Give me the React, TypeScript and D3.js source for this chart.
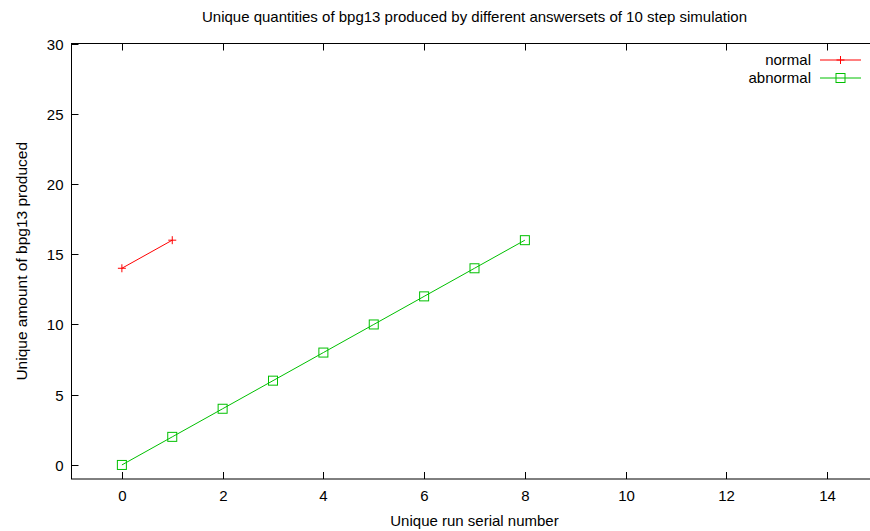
import React, { useEffect, useRef } from 'react';
import * as d3 from 'd3';

const normalX = [0, 1];
const normalY = [14, 16];
const abnormalX = [0, 1, 2, 3, 4, 5, 6, 7, 8];
const abnormalY = [0, 2, 4, 6, 8, 10, 12, 14, 16];
const xTicks = [0, 2, 4, 6, 8, 10, 12, 14];
const yTicks = [0, 5, 10, 15, 20, 25, 30];
const seriesNames = ['normal', 'abnormal'];

const W = 870;
const H = 531;

const App = () => {
  const svgRef = useRef<SVGSVGElement>(null);

  useEffect(() => {
    const svg = d3.select(svgRef.current);
    svg.selectAll('*').remove();

    const left = 71.5, right = 877.5, top = 43.5, bottom = 479;
    const font = 'Liberation Sans, Arial, sans-serif';
    const fs = 15;

    const x = d3.scaleLinear().domain([-1, 15]).range([left, right]);
    const y = d3.scaleLinear().domain([-1, 30]).range([bottom, top]);

    svg.append('rect').attr('width', W).attr('height', H).attr('fill', '#fff');

    // frame
    svg.append('rect')
      .attr('x', left).attr('y', top)
      .attr('width', right - left).attr('height', bottom - top)
      .attr('fill', 'none').attr('stroke', '#000').attr('stroke-width', 1);

    const tickLen = 7;
    const g = svg.append('g');
    xTicks.forEach(t => {
      const px = Math.round(x(t)) + 0.5;
      g.append('line').attr('x1', px).attr('x2', px).attr('y1', bottom).attr('y2', bottom - tickLen).attr('stroke', '#000');
      g.append('line').attr('x1', px).attr('x2', px).attr('y1', top).attr('y2', top + tickLen).attr('stroke', '#000');
      g.append('text').attr('x', px).attr('y', bottom + 22)
        .attr('text-anchor', 'middle').attr('font-family', font).attr('font-size', fs)
        .attr('fill', '#000').text(t);
    });
    yTicks.forEach(t => {
      const py = Math.round(y(t)) + 0.5;
      g.append('line').attr('x1', left).attr('x2', left + tickLen).attr('y1', py).attr('y2', py).attr('stroke', '#000');
      g.append('text').attr('x', left - 8).attr('y', py + 5)
        .attr('text-anchor', 'end').attr('font-family', font).attr('font-size', fs)
        .attr('fill', '#000').text(t);
    });

    // titles
    const cx = (left + right) / 2;
    svg.append('text').attr('x', cx).attr('y', 22).attr('text-anchor', 'middle')
      .attr('font-family', font).attr('font-size', 15).attr('fill', '#000')
      .text('Unique quantities of bpg13 produced by different answersets of 10 step simulation');
    svg.append('text').attr('x', cx).attr('y', 526).attr('text-anchor', 'middle')
      .attr('font-family', font).attr('font-size', 15).attr('fill', '#000')
      .text('Unique run serial number');
    svg.append('text')
      .attr('transform', `translate(27, ${(top + bottom) / 2}) rotate(-90)`)
      .attr('text-anchor', 'middle')
      .attr('font-family', font).attr('font-size', 15.5).attr('fill', '#000')
      .text('Unique amount of bpg13 produced');

    const line = d3.line<[number, number]>().x(d => x(d[0])).y(d => y(d[1]));

    const drawPlus = (sel: any, px: number, py: number, color: string) => {
      sel.append('path').attr('d', `M${px - 4},${py}H${px + 4}M${px},${py - 4}V${py + 4}`)
        .attr('stroke', color).attr('stroke-width', 1).attr('fill', 'none');
    };
    const drawSquare = (sel: any, px: number, py: number, color: string) => {
      sel.append('rect').attr('x', px - 4.5).attr('y', py - 4.5).attr('width', 9).attr('height', 9)
        .attr('stroke', color).attr('stroke-width', 1).attr('fill', 'none');
    };

    const red = '#ff0000';
    const green = '#00c000';

    const normalData = normalX.map((v, i) => [v, normalY[i]] as [number, number]);
    const abnormalData = abnormalX.map((v, i) => [v, abnormalY[i]] as [number, number]);

    svg.append('path').datum(normalData).attr('d', line).attr('fill', 'none').attr('stroke', red);
    normalData.forEach(d => drawPlus(svg, x(d[0]), y(d[1]), red));

    svg.append('path').datum(abnormalData).attr('d', line).attr('fill', 'none').attr('stroke', green);
    abnormalData.forEach(d => drawSquare(svg, x(d[0]), y(d[1]), green));

    // legend
    const legY = [60, 78];
    const colors = [red, green];
    seriesNames.forEach((name, i) => {
      svg.append('text').attr('x', 811).attr('y', legY[i] + 5).attr('text-anchor', 'end')
        .attr('font-family', font).attr('font-size', fs).attr('fill', '#000').text(name);
      svg.append('line').attr('x1', 820).attr('x2', 861).attr('y1', legY[i]).attr('y2', legY[i])
        .attr('stroke', colors[i]);
      if (i === 0) drawPlus(svg, 840.5, legY[i], red);
      else drawSquare(svg, 840.5, legY[i], green);
    });
  }, []);

  return (
    <svg ref={svgRef} width={W} height={H} style={{ position: 'absolute', left: 0, top: 0 }}></svg>
  );
};

export default App;
